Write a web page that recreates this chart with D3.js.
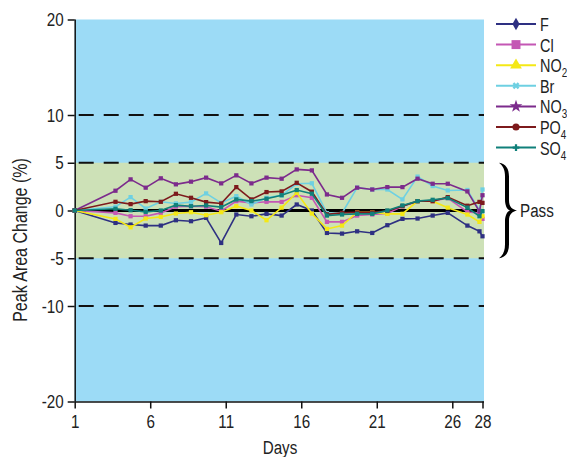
<!DOCTYPE html>
<html lang="en">
	<head>
		<meta charset="utf-8">
		<title>Peak area change over 28 days</title>
		<script type="text/javascript" src="https://cdn.jsdelivr.net/npm/d3@7"></script>
		<style type="text/css">
			body { margin: 0; background: #fff; }
			text { font-family: "Liberation Sans", Arial, sans-serif; fill: #222; }
		</style>
	</head>
	<body>
		<script type="text/javascript">

			//Data
			var days = [1, 3.7, 4.7, 5.7, 6.7, 7.7, 8.7, 9.7, 10.7, 11.7, 12.7, 13.7, 14.7,
						15.7, 16.7, 17.7, 18.7, 19.7, 20.7, 21.7, 22.7, 23.7, 24.7, 25.7, 27, 27.8, 28];

			var F   = [0, -1.3, -1.47, -1.58, -1.58, -1.02, -1.12, -0.77, -3.4, -0.42, -0.6, -0.35, -0.53,
						0.63, 0, -2.35, -2.42, -2.18, -2.35, -1.54, -0.88, -0.84, -0.53, -0.25, -1.58, -2.18, -2.7];
			var Cl  = [0, -0.25, -0.6, -0.6, -0.25, 0.4, 0.45, 0.39, -0.07, 0.98, 0.8, 0.91, 0.9,
						1.6, 1.33, -1.19, -1.19, -0.53, -0.42, -0.32, 0.45, 0.98, 0.98, 1.3, -0.15, -0.25, -0.88];
			var NO2 = [0, -0.88, -1.76, -0.84, -0.67, -0.32, -0.18, -0.49, -0.18, 0.45, 0, -1.02, 0.3,
						1.86, -0.32, -1.93, -1.58, -0.18, -0.18, -0.35, -0.35, 0.98, 0.98, 0.3, -0.42, -1.19, -0.6];
			var Br  = [0, 0.39, 1.4, 0.21, 0.91, 0.74, 0.88, 1.79, 0.8, 1.5, 0.63, 1.33, 1.58,
						2.8, 2.85, -0.28, -0.28, 2.39, 2.2, 2.2, 1.16, 3.55, 2.56, 2.1, 2.15, 0.0, 2.2];
			var NO3 = [0, 2.07, 3.26, 2.39, 3.37, 2.74, 3.02, 3.44, 2.84, 3.68, 2.84, 3.44, 3.33,
						4.3, 4.2, 1.68, 1.33, 2.39, 2.2, 2.45, 2.45, 3.33, 2.8, 2.8, 2.0, -0.1, 1.6];
			var PO4 = [0, 0.91, 0.67, 0.98, 0.91, 1.75, 1.33, 0.88, 0.74, 2.45, 1.16, 1.93, 2.0,
						2.9, 1.97, -0.4, -0.25, -0.2, -0.2, -0.05, 0.45, 0.98, 0.98, 1.4, 0.5, 0.9, 0.8];
			var SO4 = [0, 0.18, 0.03, -0.14, 0, 0.56, 0.45, 0.53, 0.35, 1.16, 0.98, 1.23, 1.6,
						2.14, 1.76, -0.53, -0.42, -0.35, -0.35, 0, 0.53, 0.98, 1.12, 1.3, 0.3, -0.6, -0.07];

			var seriesNames = ["F", "Cl", "NO2", "Br", "NO3", "PO4", "SO4"];
			var seriesValues = [F, Cl, NO2, Br, NO3, PO4, SO4];

			var xTicks = [1, 6, 11, 16, 21, 26, 28];
			var yTicks = [20, 10, 5, 0, -5, -10, -20];
			var dashedLevels = [10, 5, -5, -10];
			var passBand = [-5, 5];

			//Styles
			var colors = ["#2e3082", "#c457b4", "#f4e816", "#6ed0e2", "#7c2b8c", "#7d1a1c", "#10807a"];
			var symbols = [d3.symbolDiamond, d3.symbolSquare, d3.symbolTriangle, d3.symbolCross,
						   d3.symbolStar, d3.symbolCircle, d3.symbolCross];
			var narrow = 0.8;   // squeeze text horizontally, like a narrow font

			//Width and height
			var w = 567;
			var h = 457;
			var pLeft = 74.7, pRight = 484, pTop = 19.5, pBottom = 401.5;

			var xScale = d3.scaleLinear()
			.domain([1, 28])
			.range([pLeft, pRight - 1.5]);

			var yScale = d3.scaleLinear()
			.domain([-20, 20])
			.range([pBottom, pTop]);

			var svg = d3.select("body")
						.append("svg")
						.attr("width", w)
						.attr("height", h);

			//Background: blue, with the pass band in green
			svg.append("rect")
			.attr("x", pLeft).attr("y", pTop)
			.attr("width", pRight - pLeft).attr("height", pBottom - pTop)
			.attr("fill", "#9cdbf6");

			svg.append("rect")
			.attr("x", pLeft).attr("y", yScale(passBand[1]))
			.attr("width", pRight - pLeft)
			.attr("height", yScale(passBand[0]) - yScale(passBand[1]))
			.attr("fill", "#cde1b7");

			svg.selectAll("line.dash")
			.data(dashedLevels)
			.enter()
			.append("line")
			.attr("class", "dash")
			.attr("x1", pLeft + 4).attr("x2", pRight)
			.attr("y1", function(d){ return yScale(d); })
			.attr("y2", function(d){ return yScale(d); })
			.attr("stroke", "#111")
			.attr("stroke-width", 2)
			.attr("stroke-dasharray", "15,10");

			svg.append("line")
			.attr("x1", pLeft).attr("x2", pRight)
			.attr("y1", yScale(0)).attr("y2", yScale(0))
			.attr("stroke", "#000")
			.attr("stroke-width", 3);

			//Axes (plain hyphen for negatives, as in the original)
			var plain = function(d){ return String(d); };
			var yAxis = d3.axisLeft(yScale).tickValues(yTicks).tickFormat(plain).tickSize(7).tickPadding(4);
			var xAxis = d3.axisBottom(xScale).tickValues(xTicks).tickFormat(plain).tickSize(7).tickPadding(6);

			var gy = svg.append("g").attr("transform", "translate(" + pLeft + ",0)").call(yAxis);
			var gx = svg.append("g").attr("transform", "translate(0," + pBottom + ")").call(xAxis);

			[gx, gy].forEach(function(g){
				g.select(".domain").attr("stroke", "#111").attr("stroke-width", 1.5);
				g.selectAll(".tick line").attr("stroke", "#111").attr("stroke-width", 1.5);
				g.selectAll(".tick text")
				.attr("font-family", "Liberation Sans, Arial, sans-serif")
				.attr("font-size", 19).attr("fill", "#222");
			});
			gy.selectAll(".tick text").attr("x", -11 / narrow).attr("transform", "scale(" + narrow + ",1)");
			gx.selectAll(".tick text").attr("transform", "scale(" + narrow + ",1)");
			gx.select(".domain").attr("d", "M" + pLeft + ",0.5H" + pRight);
			gy.select(".domain").attr("d", "M0.5," + pTop + "V" + pBottom);

			//Lines and markers
			var line = d3.line()
			.x(function(d, i){ return xScale(days[i]); })
			.y(function(d){ return yScale(d); });

			var groups = svg.selectAll("g.series")
			.data(seriesValues)
			.enter()
			.append("g")
			.attr("class", "series");

			groups.append("path")
			.attr("d", function(d){ return line(d); })
			.attr("fill", "none")
			.attr("stroke", function(d, i){ return colors[i]; })
			.attr("stroke-width", 1.6);

			groups.each(function(vals, si){
				d3.select(this).selectAll("path.mark")
				.data(vals)
				.enter()
				.append("path")
				.attr("class", "mark")
				.attr("transform", function(d, i){ return "translate(" + xScale(days[i]) + "," + yScale(d) + ")"; })
				.attr("d", d3.symbol().type(d3.symbolSquare).size(18))
				.attr("fill", colors[si]);
			});

			//Legend
			var legend = svg.selectAll("g.legend")
			.data(seriesNames)
			.enter()
			.append("g")
			.attr("class", "legend")
			.attr("transform", function(d, i){ return "translate(496," + (24 + i * 20.6) + ")"; });

			legend.append("line")
			.attr("x1", 0).attr("x2", 40)
			.attr("stroke", function(d, i){ return colors[i]; })
			.attr("stroke-width", 2);

			legend.append("path")
			.attr("transform", function(d, i){ return "translate(20,0)" + (i == 3 ? " rotate(45)" : ""); })
			.attr("d", function(d, i){
				var sizes = [45, 80, 60, 30, 50, 40, 25];
				return d3.symbol().type(symbols[i]).size(sizes[i])();
			})
			.attr("fill", function(d, i){ return colors[i]; });

			var labels = legend.append("text")
			.attr("transform", "translate(44,7) scale(0.76,1)")
			.attr("font-size", 19);

			labels.append("tspan")
			.text(function(d){ return d.replace(/[0-9]/g, ""); });
			labels.append("tspan")
			.attr("dy", 5)
			.attr("font-size", 13)
			.text(function(d){ return d.replace(/[^0-9]/g, ""); });

			//Brace and "Pass"
			var by0 = yScale(passBand[1]), by1 = yScale(passBand[0]), bm = yScale(0);
			svg.append("path")
			.attr("d",
				"M499," + by0 +
				" C506," + (by0 + 1) + " 509," + (by0 + 6) + " 509," + (by0 + 14) +
				" L509," + (bm - 10) +
				" C509," + (bm - 4) + " 512," + (bm - 1) + " 517," + bm +
				" C512," + (bm + 1) + " 509," + (bm + 4) + " 509," + (bm + 10) +
				" L509," + (by1 - 14) +
				" C509," + (by1 - 6) + " 506," + (by1 - 1) + " 499," + by1 +
				" C503," + (by1 - 3) + " 505," + (by1 - 7) + " 505," + (by1 - 14) +
				" L505," + (bm + 11) +
				" C505," + (bm + 5) + " 507," + (bm + 1) + " 510," + bm +
				" C507," + (bm - 1) + " 505," + (bm - 5) + " 505," + (bm - 11) +
				" L505," + (by0 + 14) +
				" C505," + (by0 + 7) + " 503," + (by0 + 3) + " 499," + by0 + " Z")
			.attr("fill", "#000");

			svg.append("text")
			.attr("transform", "translate(520," + (bm + 6) + ") scale(" + narrow + ",1)")
			.attr("font-size", 19)
			.text("Pass");

			//Axis titles
			svg.append("text")
			.attr("transform", "translate(27,240) rotate(-90) scale(" + narrow + ",1)")
			.attr("text-anchor", "middle")
			.attr("font-size", 20)
			.text("Peak Area Change (%)");

			svg.append("text")
			.attr("transform", "translate(280,454) scale(" + narrow + ",1)")
			.attr("text-anchor", "middle")
			.attr("font-size", 19)
			.text("Days");

		</script>
	</body>
</html>
